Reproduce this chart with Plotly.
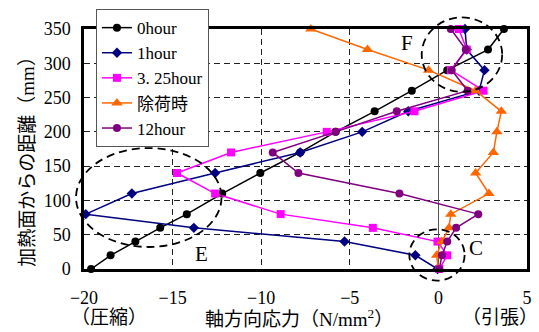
import plotly.graph_objects as go

heights = [0, 20, 40, 60, 80, 110, 140, 170, 200, 230, 260, 290, 320, 350]
s_0h = [-19.6, -18.5, -17.1, -15.7, -14.2, -12.2, -10.05, -7.8, -5.8, -3.6, -1.5, 0.5, 2.8, 3.7]
s_1h = [-0.05, -1.3, -5.3, -13.8, -19.9, -17.3, -12.6, -7.8, -4.3, -1.7, 2.3, 2.6, 1.6, 1.5]
s_325h = [0.05, 0.5, -0.05, -3.7, -8.9, -12.6, -14.75, -11.7, -6.3, -1.35, 2.55, 0.7, 1.6, 1.15]
s_unload = [0.0, -0.1, 0.2, 0.6, 0.7, 2.85, 2.1, 3.1, 3.3, 3.55, 2.1, -0.55, -4.0, -7.2]
s_12h = [0.05, 0.2, 0.5, 1.0, 2.25, -2.2, -7.9, -9.35, -5.8, -2.35, 1.65, 0.75, 1.55, 0.7]

series_names = ["0hour", "1hour", "3. 25hour", "除荷時", "12hour"]
x_ticks = [-20, -15, -10, -5, 0, 5]
y_ticks = [0, 50, 100, 150, 200, 250, 300, 350]

XR = [-20, 5]
YR = [0, 350]

FONT = "Liberation Serif, Noto Sans CJK JP, serif"

styles = [
    dict(color="#000000", symbol="circle", size=8),
    dict(color="#000080", symbol="diamond", size=8),
    dict(color="#FF00FF", symbol="square", size=8),
    dict(color="#FF6600", symbol="triangle-up", size=10),
    dict(color="#800080", symbol="circle", size=8),
]
data = [s_0h, s_1h, s_325h, s_unload, s_12h]

fig = go.Figure()
for name, xs, st in zip(series_names, data, styles):
    fig.add_trace(go.Scatter(
        x=xs, y=heights, name=name, mode="lines+markers",
        line=dict(color=st["color"], width=1.5),
        marker=dict(color=st["color"], symbol=st["symbol"], size=st["size"]),
        cliponaxis=False,
    ))


def px_(x):
    return (x - XR[0]) / (XR[1] - XR[0])


def py_(y):
    return (y - YR[0]) / (YR[1] - YR[0])


ellipses = [
    (-20.45, -12.24, 32.1, 176.4),
    (-0.94, 3.6, 258.5, 366.9),
    (-1.64, 1.48, -17.0, 57.9),
]
for x0, x1, y0, y1 in ellipses:
    fig.add_shape(type="circle", xref="paper", yref="paper",
                  x0=px_(x0), x1=px_(x1), y0=py_(y0), y1=py_(y1),
                  line=dict(color="black", width=1.8, dash="8px,5px"), layer="above")

labels = [("E", -13.39, 21.4), ("F", -1.78, 329), ("C", 2.14, 30.2)]
for t, x, y in labels:
    fig.add_annotation(text=t, x=x, y=y, xref="x", yref="y", showarrow=False,
                       font=dict(family=FONT, size=21, color="black"))

fig.add_annotation(text="軸方向応力（N/mm<sup>2</sup>）", x=-7.88, y=-0.204, xref="x", yref="paper",
                   showarrow=False, yanchor="middle", font=dict(family=FONT, size=19, color="black"))
fig.add_annotation(text="（圧縮）", x=-18.6, y=-0.204, xref="x", yref="paper",
                   showarrow=False, yanchor="middle", font=dict(family=FONT, size=19, color="black"))
fig.add_annotation(text="（引張）", x=3.5, y=-0.204, xref="x", yref="paper",
                   showarrow=False, yanchor="middle", font=dict(family=FONT, size=19, color="black"))
fig.add_annotation(text="加熱面からの距離（mm）", x=-0.127, y=0.467, xref="paper", yref="paper",
                   showarrow=False, textangle=-90, xanchor="center", yanchor="middle",
                   font=dict(family=FONT, size=19, color="black"))

fig.update_xaxes(range=XR, tickvals=x_ticks, showgrid=True, gridcolor="#222222", gridwidth=1,
                 griddash="6px,4px", zeroline=True, zerolinecolor="#555555", zerolinewidth=1,
                 showline=True, linecolor="black", linewidth=2.5, mirror=True, automargin=False,
                 ticks="", ticklabelstandoff=11, tickfont=dict(family=FONT, size=18, color="black"))
fig.update_yaxes(range=YR, tickvals=y_ticks, showgrid=True, gridcolor="#222222", gridwidth=1,
                 griddash="6px,4px", zeroline=False, automargin=False,
                 showline=True, linecolor="black", linewidth=2.5, mirror=True,
                 ticks="", ticklabelstandoff=7, tickfont=dict(family=FONT, size=18, color="black"))

fig.update_layout(
    width=539, height=332,
    margin=dict(l=84, r=12, t=29, b=63, autoexpand=False),
    plot_bgcolor="white", paper_bgcolor="white",
    showlegend=True,
    legend=dict(x=0.027, y=1.083, xanchor="left", yanchor="top",
                bgcolor="white", bordercolor="#555555", borderwidth=1,
                font=dict(family=FONT, size=17, color="black"),
                tracegroupgap=0, itemwidth=30),
    font=dict(family=FONT, color="black"),
)

fig.write_html("out.html", config={"displayModeBar": False},
               post_script="document.body.style.margin='0';")
